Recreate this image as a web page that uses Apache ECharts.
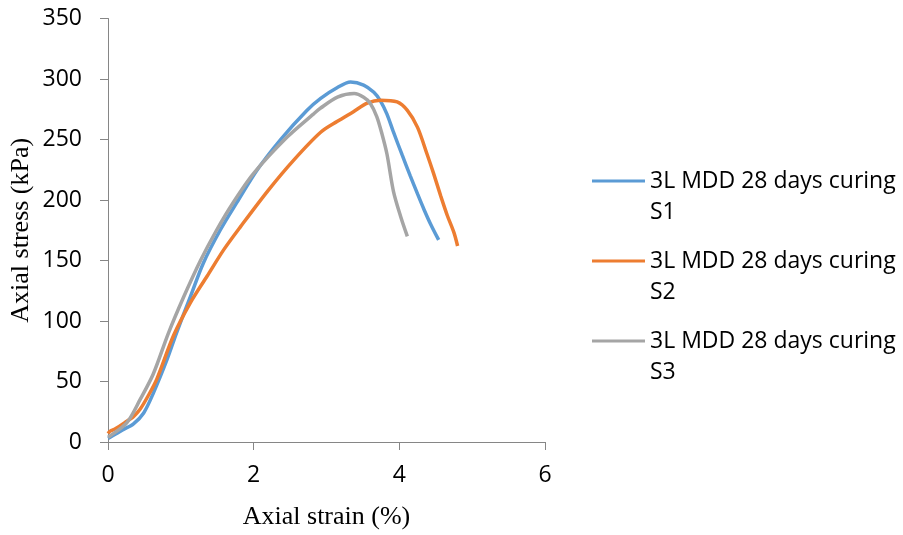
<!DOCTYPE html>
<html>
<head>
<meta charset="utf-8">
<script src="https://cdn.jsdelivr.net/npm/echarts@6/dist/echarts.min.js"></script>
<style>html,body{margin:0;padding:0;background:#fff}#c{width:903px;height:535px}</style>
</head>
<body>
<div id="c"></div>
<script>
// Series names
const seriesNames = ['3L MDD 28 days curing S1', '3L MDD 28 days curing S2', '3L MDD 28 days curing S3'];
const legendLine1 = '3L MDD 28 days curing';
const legendLine2 = ['S1', 'S2', 'S3'];

// S1 (blue)
const s1Strain = [0, 0.03, 0.2, 0.35, 0.49, 0.62, 0.81, 0.94, 1.13, 1.31, 1.54, 1.77, 2.05, 2.37, 2.73, 2.92, 3.15, 3.33, 3.51, 3.65, 3.74, 3.83, 3.92, 4.04, 4.15, 4.25, 4.34, 4.43, 4.54];
const s1Stress = [3, 4, 10, 15, 24, 40, 68, 90, 120, 148, 175, 198, 225, 250, 274, 284, 293, 297.5, 295, 289, 282, 271, 256, 237, 220, 205, 192, 180, 167];

// S2 (orange)
const s2Strain = [0, 0.03, 0.1, 0.23, 0.35, 0.44, 0.55, 0.67, 0.9, 1.13, 1.36, 1.59, 1.82, 2.2, 2.55, 2.92, 3.15, 3.37, 3.56, 3.74, 3.97, 4.11, 4.25, 4.38, 4.47, 4.57, 4.66, 4.75, 4.80];
const s2Stress = [7, 9, 11, 16, 21, 27, 38, 52, 88, 115, 137, 159, 178, 208, 233, 256, 265, 273, 280, 282.5, 281, 274, 260, 238, 222, 203, 187, 173, 162];

// S3 (grey)
const s3Strain = [0, 0.03, 0.26, 0.44, 0.62, 0.83, 1.04, 1.27, 1.49, 1.72, 2.0, 2.46, 2.82, 2.92, 3.15, 3.38, 3.51, 3.60, 3.69, 3.76, 3.83, 3.92, 4.02, 4.11];
const s3Stress = [4, 5, 16, 35, 56, 90, 120, 150, 175, 198, 222, 252, 271, 276, 285, 288, 285, 280, 269, 255, 238, 207, 186, 170];

const xTicks = {min: 0, max: 6, interval: 2};
const yTicks = {min: 0, max: 350, interval: 50};
const colors = ['#5B9BD5', '#ED7D31', '#A5A5A5'];

const zip = (a, b) => a.map((v, i) => [v, b[i]]);
const allData = [zip(s1Strain, s1Stress), zip(s2Strain, s2Stress), zip(s3Strain, s3Stress)];

const chart = echarts.init(document.getElementById('c'), null, {renderer: 'canvas'});
const axisCol = '#868686';
const font = '"Open Sans", sans-serif';
chart.setOption({
  animation: false,
  backgroundColor: '#fff',
  grid: {left: 108, right: 358, top: 18.5, bottom: 92, containLabel: false},
  xAxis: {
    type: 'value', min: xTicks.min, max: xTicks.max, interval: xTicks.interval,
    name: 'Axial strain (%)', nameLocation: 'middle', nameGap: 62,
    nameTextStyle: {fontFamily: '"Liberation Serif", serif', fontSize: 26, color: '#000'},
    axisLine: {show: true, lineStyle: {color: axisCol, width: 1}},
    axisTick: {show: true, length: 8, lineStyle: {color: axisCol}},
    splitLine: {show: false},
    axisLabel: {fontFamily: font, fontSize: 23, color: '#000', margin: 22}
  },
  yAxis: {
    type: 'value', min: yTicks.min, max: yTicks.max, interval: yTicks.interval,
    name: 'Axial stress (kPa)', nameLocation: 'middle', nameGap: 74,
    nameTextStyle: {fontFamily: '"Liberation Serif", serif', fontSize: 26, color: '#000'},
    axisLine: {show: true, lineStyle: {color: axisCol, width: 1}},
    axisTick: {show: true, length: 8, lineStyle: {color: axisCol}},
    splitLine: {show: false},
    axisLabel: {fontFamily: font, fontSize: 23, color: '#000', margin: 26}
  },
  legend: {
    orient: 'vertical', left: 592, top: 134.5, padding: 0,
    icon: 'rect', itemWidth: 53, itemHeight: 3, itemGap: -13,
    data: seriesNames,
    formatter: function (name) {
      const i = seriesNames.indexOf(name);
      return ' \n' + legendLine1 + '\n' + legendLine2[i];
    },
    textStyle: {fontFamily: font, fontSize: 23, color: '#000', lineHeight: 31}
  },
  series: allData.map((d, i) => ({
    name: seriesNames[i], type: 'line', data: d, smooth: 0.3,
    showSymbol: false, symbol: 'none',
    lineStyle: {color: colors[i], width: 3.5}, itemStyle: {color: colors[i]}
  }))
});
</script>
</body>
</html>
